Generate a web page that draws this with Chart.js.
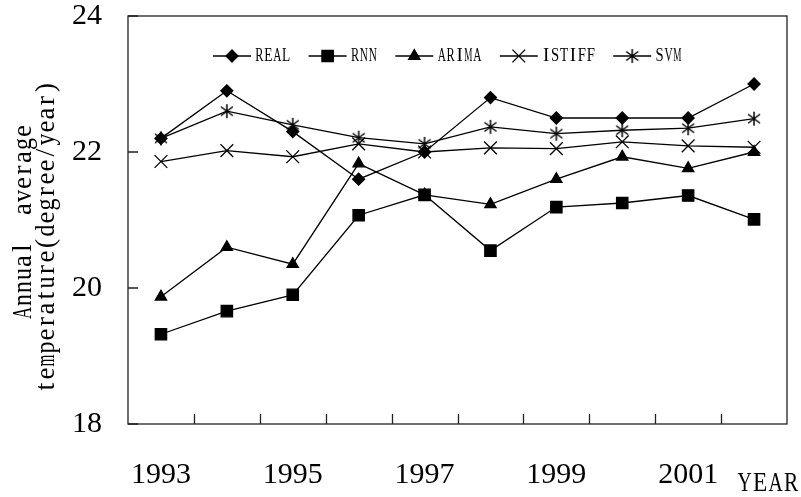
<!DOCTYPE html>
<html>
<head>
<meta charset="utf-8">
<script src="https://cdn.jsdelivr.net/npm/chart.js@4"></script>
<style>
  html, body { margin: 0; padding: 0; background: #fff; }
  #wrap { width: 801px; height: 497px; }
</style>
</head>
<body>
<div id="wrap"><canvas id="chart" width="801" height="497"></canvas></div>
<script>
const years = ['1993', '1994', '1995', '1996', '1997', '1998', '1999', '2000', '2001', '2002'];
const realValues = [22.2, 22.9, 22.3, 21.6, 22.0, 22.8, 22.5, 22.5, 22.5, 23.0];
const rnnValues = [19.32, 19.66, 19.9, 21.07, 21.37, 20.55, 21.19, 21.25, 21.36, 21.01];
const arimaValues = [19.87, 20.6, 20.35, 21.83, 21.37, 21.23, 21.6, 21.93, 21.76, 22.0];
const istiffValues = [21.86, 22.02, 21.93, 22.12, 22.0, 22.06, 22.05, 22.15, 22.09, 22.07];
const svmValues = [22.2, 22.6, 22.4, 22.21, 22.12, 22.37, 22.27, 22.32, 22.35, 22.49];
const yTicks = [18, 20, 22, 24];
const yTitle = ['Annual  average', 'temperature(degree/year)'];
const xTitle = 'YEAR';

// asterisk marker for SVM (vertical bar + X)
function makeAsterisk() {
    const c = document.createElement('canvas');
    c.width = 16; c.height = 16;
    const g = c.getContext('2d');
    g.strokeStyle = '#000';
    g.lineWidth = 1.5;
    g.beginPath();
    g.moveTo(8, 1); g.lineTo(8, 15);
    g.moveTo(2, 3.5); g.lineTo(14, 12.5);
    g.moveTo(2, 12.5); g.lineTo(14, 3.5);
    g.stroke();
    return c;
}
const asterisk = makeAsterisk();

function series(label, data, style, radius) {
    return {
        label: label,
        data: data,
        borderColor: '#000',
        backgroundColor: '#000',
        borderWidth: 1.3,
        pointStyle: style,
        pointRadius: radius,
        pointHoverRadius: radius,
        pointBorderWidth: 1.3,
        fill: false,
        tension: 0
    };
}

// fixed-advance text (half-width cells, like the original CJK font)
function monoText(g, text, x, y, cell, align) {
    const total = text.length * cell;
    let ox = x;
    if (align === 'center') ox = x - total / 2;
    if (align === 'right') ox = x - total;
    g.textAlign = 'center';
    for (let i = 0; i < text.length; i++) {
        const ch = text[i];
        const w = g.measureText(ch).width;
        const s = Math.min(1, (cell * 0.92) / w);
        g.save();
        g.translate(ox + cell * (i + 0.5), y);
        g.scale(s, 1);
        g.fillText(ch, 0, 0);
        g.restore();
    }
    return total;
}

const framePlugin = {
    id: 'frame',
    afterDraw(chart) {
        const g = chart.ctx;
        const a = chart.chartArea;
        const xs = chart.scales.x;
        const ys = chart.scales.y;
        g.save();
        g.strokeStyle = '#222';
        g.lineWidth = 1.3;
        g.strokeRect(a.left, a.top, a.right - a.left, a.bottom - a.top);
        g.beginPath();
        // inward ticks between categories
        for (let i = 0; i < years.length - 1; i++) {
            const px = Math.round((xs.getPixelForValue(i) + xs.getPixelForValue(i + 1)) / 2) + 0.5;
            g.moveTo(px, a.bottom);
            g.lineTo(px, a.bottom - 10);
        }
        yTicks.forEach(v => {
            const py = ys.getPixelForValue(v);
            g.moveTo(a.left, py);
            g.lineTo(a.left + 10, py);
        });
        g.stroke();

        // axis titles
        g.fillStyle = '#000';
        g.textBaseline = 'middle';
        g.font = '28px "Liberation Serif"';
        g.save();
        g.translate(24, 222);
        g.rotate(-Math.PI / 2);
        monoText(g, yTitle[0], 0, 0, 13, 'center');
        g.restore();
        g.save();
        g.translate(47, 237);
        g.rotate(-Math.PI / 2);
        monoText(g, yTitle[1], 0, 0, 13, 'center');
        g.restore();
        g.font = '27px "Liberation Serif"';
        monoText(g, xTitle, 799, 484, 15.5, 'right');

        // legend: line + marker + label
        g.font = '19px "Liberation Serif"';
        let x = 213;
        const y = 56;
        chart.data.datasets.forEach(ds => {
            g.beginPath();
            g.strokeStyle = '#000';
            g.lineWidth = 1.3;
            g.moveTo(x, y);
            g.lineTo(x + 38, y);
            g.stroke();
            g.fillStyle = '#000';
            Chart.helpers.drawPoint(g, {
                pointStyle: ds.pointStyle,
                radius: ds.pointRadius,
                borderWidth: 1.3
            }, x + 19, y);
            g.fillStyle = '#000';
            const w = monoText(g, ds.label, x + 42, y, 8.9, 'left');
            x += 42 + w + 18;
        });
        g.restore();
    }
};

const ctx = document.getElementById('chart').getContext('2d');
const chart = new Chart(ctx, {
    type: 'line',
    data: {
        labels: years,
        datasets: [
            series('REAL', realValues, 'rectRot', 6),
            series('RNN', rnnValues, 'rect', 8),
            series('ARIMA', arimaValues, 'triangle', 6.5),
            series('ISTIFF', istiffValues, 'crossRot', 9),
            series('SVM', svmValues, asterisk, 8)
        ]
    },
    options: {
        responsive: false,
        animation: false,
        layout: { padding: { top: 16, right: 14, left: 0, bottom: 0 } },
        plugins: {
            legend: { display: false },
            tooltip: { enabled: false }
        },
        scales: {
            x: {
                type: 'category',
                offset: true,
                grid: { display: false, drawTicks: false },
                border: { display: false },
                ticks: {
                    autoSkip: false,
                    maxRotation: 0,
                    padding: 33,
                    color: '#000',
                    font: { family: '"Liberation Serif"', size: 30 },
                    callback: (v, i) => (i % 2 === 0 ? years[i] : '')
                },
                afterFit: s => { s.height = 73; s.paddingLeft = 0; s.paddingRight = 0; }
            },
            y: {
                min: 18,
                max: 24,
                grid: { display: false, drawTicks: false },
                border: { display: false },
                ticks: {
                    stepSize: 2,
                    padding: 26,
                    color: '#000',
                    font: { family: '"Liberation Serif"', size: 30 }
                },
                afterFit: s => { s.width = 128; s.paddingTop = 0; s.paddingBottom = 0; }
            }
        }
    },
    plugins: [framePlugin]
});
</script>
</body>
</html>
